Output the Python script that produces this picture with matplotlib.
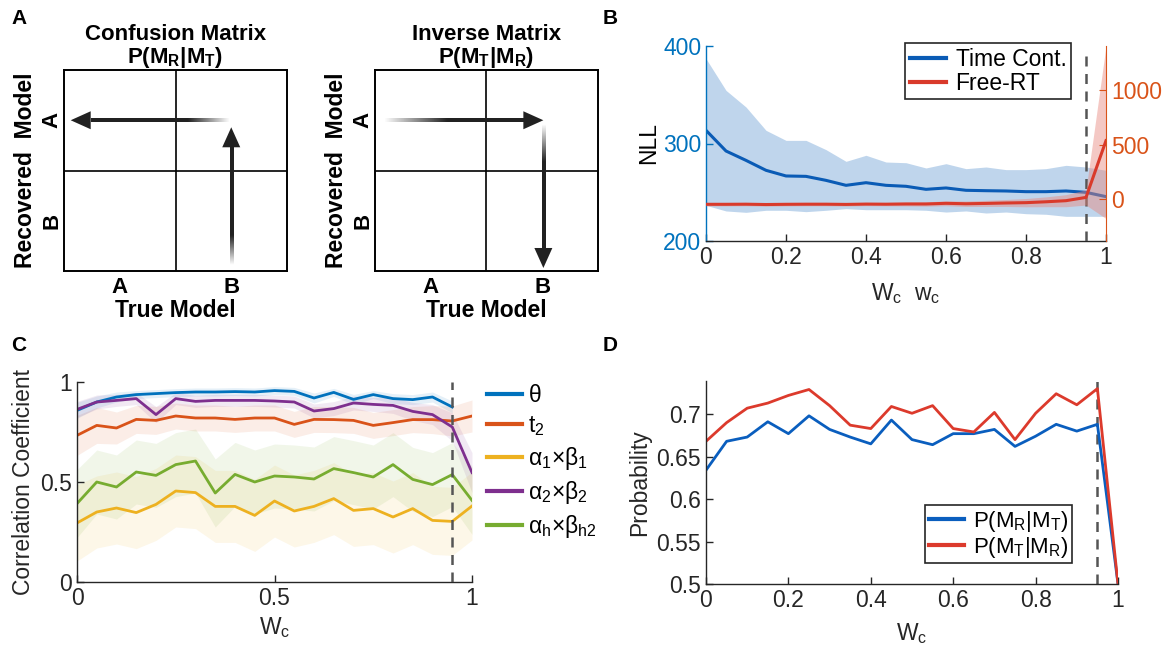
import numpy as np
import matplotlib
matplotlib.use("Agg")
import matplotlib.pyplot as plt
from matplotlib.lines import Line2D

plt.rcParams['font.family'] = ['Liberation Sans', 'DejaVu Sans']
plt.rcParams['mathtext.fontset'] = 'custom'
plt.rcParams['mathtext.rm'] = 'Liberation Sans'
plt.rcParams['mathtext.it'] = 'Liberation Sans:italic'
plt.rcParams['mathtext.bf'] = 'Liberation Sans:bold'

W, H = 1172, 655

# ---------------- data ----------------
wc = [0.0, 0.05, 0.1, 0.15, 0.2, 0.25, 0.3, 0.35, 0.4, 0.45, 0.5,
      0.55, 0.6, 0.65, 0.7, 0.75, 0.8, 0.85, 0.9, 0.95, 1.0]

# panel B: NLL (left axis, time-controlled) and NLL (right axis, free RT)
nll_tc = [313.5, 292.3, 282.7, 272.5, 266.7, 266.3, 262.2, 257.1, 259.8, 257.1, 256.1,
          253.0, 254.4, 252.0, 251.6, 251.3, 250.6, 250.6, 251.3, 249.9, 245.5]
nll_tc_hi = [387, 354.5, 337.4, 313.5, 303.2, 303.2, 293.7, 281.7, 287.9, 281.0, 280.3,
             274.9, 279.3, 274.2, 275.9, 273.2, 273.2, 274.2, 277.6, 275.9, 272.5]
nll_tc_lo = [236.6, 230.8, 229.4, 231.5, 231.5, 230.1, 231.5, 233.2, 232.1, 232.1, 232.1,
             231.5, 229.7, 230.8, 228.7, 229.7, 228.0, 227.4, 225.3, 225.3, 225.3]
nll_rt = [-45, -45, -44, -47, -45, -44, -44, -46, -43, -44, -42,
          -42, -36, -40, -37, -33, -30, -22, -12, 18, 536]
nll_rt_hi = [-30, -30, -29, -32, -30, -29, -29, -31, -28, -29, -24,
             -22, -14, -15, -9, -1, 8, 23, 43, 88, 1400]
nll_rt_lo = [-60, -60, -59, -62, -60, -59, -59, -61, -58, -59, -60,
             -62, -58, -65, -65, -65, -68, -67, -67, -52, -175]

# panel C: correlation coefficients
corr_theta = [0.858, 0.900, 0.925, 0.937, 0.942, 0.947, 0.950, 0.950, 0.952, 0.950, 0.957,
              0.953, 0.920, 0.948, 0.913, 0.937, 0.917, 0.912, 0.925, 0.875, np.nan]
corr_theta_sd = [0.04, 0.03, 0.025, 0.02, 0.02, 0.02, 0.02, 0.02, 0.02, 0.02, 0.02,
                 0.02, 0.025, 0.02, 0.025, 0.02, 0.025, 0.025, 0.025, 0.03, np.nan]
corr_t2 = [0.733, 0.783, 0.770, 0.813, 0.808, 0.830, 0.820, 0.820, 0.813, 0.820, 0.820,
           0.788, 0.813, 0.812, 0.808, 0.783, 0.797, 0.812, 0.812, 0.805, 0.830]
corr_t2_sd = [0.10, 0.09, 0.08, 0.07, 0.07, 0.065, 0.065, 0.065, 0.065, 0.065, 0.065,
              0.065, 0.065, 0.065, 0.065, 0.065, 0.065, 0.065, 0.07, 0.075, 0.08]
corr_a1b1 = [0.295, 0.350, 0.370, 0.347, 0.388, 0.455, 0.447, 0.378, 0.378, 0.333, 0.405,
             0.355, 0.378, 0.417, 0.358, 0.367, 0.325, 0.367, 0.308, 0.303, 0.380]
corr_a1b1_sd = [0.19, 0.18, 0.18, 0.18, 0.18, 0.18, 0.18, 0.18, 0.18, 0.18, 0.18,
                0.18, 0.18, 0.18, 0.18, 0.18, 0.18, 0.18, 0.17, 0.17, 0.17]
corr_a2b2 = [0.863, 0.900, 0.908, 0.917, 0.837, 0.917, 0.903, 0.908, 0.908, 0.908, 0.905,
             0.900, 0.855, 0.867, 0.895, 0.888, 0.883, 0.853, 0.837, 0.775, 0.547]
corr_a2b2_sd = [0.04, 0.035, 0.03, 0.03, 0.04, 0.03, 0.03, 0.03, 0.03, 0.03, 0.03,
                0.03, 0.035, 0.035, 0.035, 0.035, 0.04, 0.045, 0.05, 0.07, 0.1]
corr_ahbh = [0.392, 0.500, 0.475, 0.550, 0.533, 0.587, 0.605, 0.445, 0.538, 0.500, 0.530,
             0.525, 0.515, 0.567, 0.547, 0.525, 0.587, 0.513, 0.487, 0.537, 0.408]
corr_ahbh_sd = [0.17, 0.16, 0.16, 0.16, 0.16, 0.16, 0.16, 0.17, 0.16, 0.16, 0.16,
                0.16, 0.16, 0.16, 0.16, 0.16, 0.16, 0.16, 0.16, 0.16, 0.17]

# panel D: recovery probabilities
p_rt = [0.634, 0.668, 0.673, 0.691, 0.677, 0.698, 0.682, 0.673, 0.665, 0.693, 0.670,
        0.664, 0.677, 0.677, 0.682, 0.662, 0.674, 0.688, 0.680, 0.688, 0.500]
p_tr = [0.668, 0.690, 0.707, 0.713, 0.722, 0.729, 0.710, 0.687, 0.683, 0.709, 0.701,
        0.710, 0.683, 0.679, 0.702, 0.670, 0.701, 0.724, 0.711, 0.730, 0.500]

cutoff = 0.95
TICK_FS = 16.5
LABEL_FS = 16.5

# ---------------- helpers ----------------
def px_axes(fig, left, top, right, bottom):
    return fig.add_axes([left / W, 1 - bottom / H, (right - left) / W, (bottom - top) / H])


def fade_arrow(ax, start, end, fade, sx, sy, color=(0.13, 0.13, 0.13)):
    # axis-aligned arrow; shaft is a gradient image, head a triangle
    x0, y0 = start
    x1, y1 = end
    head_len, head_hw, shaft_hw = 20, 9, 1.6
    n = 200
    ramp = np.clip(np.linspace(0, 1, n) / fade, 0, 1)
    rgba = np.zeros((n, 4))
    rgba[:, :3] = color
    rgba[:, 3] = ramp
    if y0 == y1:
        sgn = np.sign(x1 - x0)
        bx = x1 - sgn * head_len * sx
        img = rgba[None, :, :] if sgn > 0 else rgba[None, ::-1, :]
        ax.imshow(img, extent=(min(x0, bx), max(x0, bx), y0 - shaft_hw * sy, y0 + shaft_hw * sy),
                  aspect='auto', interpolation='bilinear', zorder=3)
        head = [(x1, y1), (bx, y1 + head_hw * sy), (bx, y1 - head_hw * sy)]
    else:
        sgn = np.sign(y1 - y0)
        by = y1 - sgn * head_len * sy
        img = rgba[:, None, :]
        # imshow row 0 is at the top (origin='upper')
        if sgn > 0:
            img = img[::-1]
        ax.imshow(img, extent=(x0 - shaft_hw * sx, x0 + shaft_hw * sx, min(y0, by), max(y0, by)),
                  aspect='auto', interpolation='bilinear', zorder=3)
        head = [(x1, y1), (x1 + head_hw * sx, by), (x1 - head_hw * sx, by)]
    head = np.array(head)
    ax.fill(head[:, 0], head[:, 1], color=color, lw=0, zorder=3)


def matrix_panel(ax, title1, title2, arrows):
    sx = 2 / 223
    sy = 2 / 201
    for a in arrows:
        fade_arrow(ax, a[0], a[1], a[2], sx, sy)
    ax.set_xlim(0, 2)
    ax.set_ylim(0, 2)
    ax.axhline(1, color='k', lw=1.2)
    ax.axvline(1, color='k', lw=1.2)
    for s in ax.spines.values():
        s.set_linewidth(1.4)
    ax.set_xticks([0.5, 1.5])
    ax.set_xticklabels(['A', 'B'], fontsize=16, fontweight='bold')
    ax.set_yticks([1.5, 0.5])
    ax.set_yticklabels(['A', 'B'], fontsize=16, fontweight='bold', rotation=90, va='center')
    ax.tick_params(axis='x', length=0, pad=4)
    ax.tick_params(axis='y', length=0, pad=1)
    ax.set_xlabel('True Model', fontsize=16.5, fontweight='bold', labelpad=1)
    ax.set_ylabel('Recovered  Model', fontsize=16.5, fontweight='bold', labelpad=3)
    ax.set_title(title1 + '\n' + title2, fontsize=16, fontweight='bold', pad=4, linespacing=1.0)


def style_axes(ax):
    for s in ['top', 'right']:
        ax.spines[s].set_visible(False)
    for s in ['left', 'bottom']:
        ax.spines[s].set_color('#262626')
        ax.spines[s].set_linewidth(1.0)
    ax.tick_params(direction='in', length=5, width=1.0, labelsize=TICK_FS, colors='#262626')


fig = plt.figure(figsize=(W / 100, H / 100), dpi=100)

# ---------------- panel A ----------------
axA1 = px_axes(fig, 64, 70, 287, 271)
matrix_panel(axA1, 'Confusion Matrix', r'$\mathregular{P(M_R|M_T)}$',
             [((1.48, 1.5), (0.06, 1.5), 0.3), ((1.5, 0.06), (1.5, 1.43), 0.25)])
axA2 = px_axes(fig, 375, 70, 598, 271)
matrix_panel(axA2, 'Inverse Matrix', r'$\mathregular{P(M_T|M_R)}$',
             [((0.08, 1.5), (1.51, 1.5), 0.45), ((1.51, 1.46), (1.51, 0.03), 0.3)])

# ---------------- panel B ----------------
blue_b = '#0A5BB5'
red_b = '#D93A2B'
axB = px_axes(fig, 706, 46, 1106, 241)
style_axes(axB)
axB.fill_between(wc, nll_tc_lo, nll_tc_hi, color='#AFCBE8', alpha=0.8, lw=0)
axB.plot(wc, nll_tc, color=blue_b, lw=2.2)
axB.set_xlim(0, 1)
axB.set_ylim(200, 400)
axB.set_yticks([200, 300, 400])
axB.set_xticks([0, 0.2, 0.4, 0.6, 0.8, 1])
axB.set_xticklabels(['0', '0.2', '0.4', '0.6', '0.8', '1'])
axB.spines['left'].set_color('#0072BD')
axB.tick_params(axis='y', colors='#0072BD', labelcolor='#0072BD')
axB.set_ylabel('NLL', fontsize=LABEL_FS, color='k', labelpad=2)
axB.set_xlabel(r'$\mathregular{W_c\ \ w_c}$', fontsize=LABEL_FS, color='#262626', labelpad=9)
axB.axvline(cutoff, ymax=0.96, color='#555555', lw=1.8, ls=(0, (4, 3)), zorder=5)

axB2 = axB.twinx()
axB2.fill_between(wc, nll_rt_lo, nll_rt_hi, color='#E8877C', alpha=0.45, lw=0)
axB2.plot(wc, nll_rt, color=red_b, lw=2.2)
axB2.set_ylim(-380, 1400)
axB2.set_yticks([0, 500, 1000])
for s in ['top', 'left', 'bottom']:
    axB2.spines[s].set_visible(False)
axB2.spines['right'].set_color('#D95319')
axB2.tick_params(direction='in', length=5, labelsize=TICK_FS, colors='#D95319')
legB = axB2.legend([Line2D([], [], color=blue_b, lw=3), Line2D([], [], color=red_b, lw=3)],
                   ['Time Cont.', 'Free-RT'], loc='upper right', fontsize=16.5,
                   bbox_to_anchor=(1071 / W, 1 - 43 / H), bbox_transform=fig.transFigure,
                   fancybox=False, edgecolor='#262626', framealpha=1, borderpad=0.2,
                   handlelength=1.6, handletextpad=0.4, labelspacing=0.05, borderaxespad=0)
legB.get_frame().set_linewidth(1.2)
legB.set_zorder(20)

# ---------------- panel C ----------------
axC = px_axes(fig, 77, 382, 472, 582)
style_axes(axC)
series_c = [
    (corr_theta, corr_theta_sd, '#0072BD', r'$\mathregular{θ}$'),
    (corr_t2, corr_t2_sd, '#D95319', r'$\mathregular{t_2}$'),
    (corr_a1b1, corr_a1b1_sd, '#EDB120', r'$\mathregular{α_1{\times}β_1}$'),
    (corr_a2b2, corr_a2b2_sd, '#7E2F8E', r'$\mathregular{α_2{\times}β_2}$'),
    (corr_ahbh, corr_ahbh_sd, '#77AC30', r'$\mathregular{α_h{\times}β_{h2}}$'),
]
handles = []
for mean, sd, col, lab in series_c:
    m = np.array(mean)
    s = np.array(sd)
    axC.fill_between(wc, m - s, m + s, color=col, alpha=0.1, lw=0)
for mean, sd, col, lab in series_c:
    h, = axC.plot(wc, mean, color=col, lw=2.0, label=lab)
    handles.append(h)
axC.axvline(cutoff, color='#555555', lw=1.8, ls=(0, (4, 3)), zorder=5)
axC.set_xlim(0, 1)
axC.set_ylim(0, 1)
axC.set_xticks([0, 0.5, 1])
axC.set_xticklabels(['0', '0.5', '1'])
axC.set_yticks([0, 0.5, 1])
axC.set_yticklabels(['0', '0.5', '1'])
axC.set_ylabel('Correlation Coefficient', fontsize=LABEL_FS, color='#262626', labelpad=4)
axC.set_xlabel(r'$\mathregular{W_c}$', fontsize=LABEL_FS, color='#262626', labelpad=4)
leg_c = [Line2D([], [], color=h.get_color(), lw=3) for h in handles]
axC.legend(leg_c, [h.get_label() for h in handles], loc='upper left',
           bbox_to_anchor=(478 / W, 1 - 375 / H),
           bbox_transform=fig.transFigure, frameon=False, fontsize=16.5,
           handlelength=1.5, handletextpad=0.3, labelspacing=0.3, borderaxespad=0)

# ---------------- panel D ----------------
blue_d = '#0A5EBE'
red_d = '#DC3A2C'
axD = px_axes(fig, 706, 381, 1118, 584)
style_axes(axD)
axD.plot(wc, p_rt, color=blue_d, lw=2.0)
axD.plot(wc, p_tr, color=red_d, lw=2.0)
axD.axvline(cutoff, color='#555555', lw=1.8, ls=(0, (4, 3)), zorder=1)
axD.set_xlim(0, 1)
axD.set_ylim(0.5, 0.739)
axD.set_yticks([0.5, 0.55, 0.6, 0.65, 0.7])
axD.set_yticklabels(['0.5', '0.55', '0.6', '0.65', '0.7'])
axD.set_xticks([0, 0.2, 0.4, 0.6, 0.8, 1])
axD.set_xticklabels(['0', '0.2', '0.4', '0.6', '0.8', '1'])
axD.set_ylabel('Probability', fontsize=LABEL_FS, color='#262626', labelpad=4)
axD.set_xlabel(r'$\mathregular{W_c}$', fontsize=LABEL_FS, color='#262626', labelpad=7)
legD = axD.legend([Line2D([], [], color=blue_d, lw=3), Line2D([], [], color=red_d, lw=3)],
                  [r'$\mathregular{P(M_R|M_T)}$', r'$\mathregular{P(M_T|M_R)}$'],
                  loc='lower right', bbox_to_anchor=(1072 / W, 1 - 563 / H),
                  bbox_transform=fig.transFigure, fontsize=16, fancybox=False,
                  edgecolor='#262626', framealpha=1, borderpad=0.15, handlelength=1.6,
                  handletextpad=0.4, labelspacing=0.05, borderaxespad=0)
legD.get_frame().set_linewidth(1.2)

# ---------------- panel letters ----------------
for letter, x, y in [('A', 11, 18), ('B', 603, 18), ('C', 11, 346), ('D', 603, 346)]:
    fig.text(x / W, 1 - y / H, letter, fontsize=15, fontweight='bold', va='center', ha='left')

fig.savefig('out.png', dpi=100)
